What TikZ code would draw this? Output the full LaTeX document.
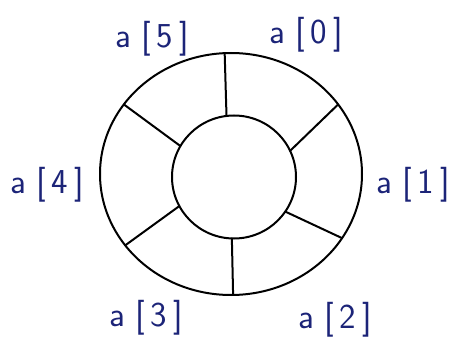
\documentclass[tikz,border=0pt]{standalone}
\usetikzlibrary{shapes.geometric}
\definecolor{ink}{RGB}{28,36,120}
\begin{document}
\begin{tikzpicture}[x=1pt,y=1pt,
  ring/.style={draw=black, line width=2pt, ellipse, inner sep=0pt, outer sep=0pt},
  spoke/.style={draw=black, line width=2pt, line cap=round},
  lbl/.style={text=ink, font=\sffamily\fontsize{35}{40}\selectfont, inner sep=0pt}]
\useasboundingbox (0,0) rectangle (475,349);
\node[ring, minimum width=262pt, minimum height=242pt] (outer) at (231,175) {};
\node[ring, minimum width=124pt, minimum height=123pt] (inner) at (234,172) {};
\draw[spoke] (inner.97) -- (outer.93);
\draw[spoke] (inner.25) -- (outer.33);
\draw[spoke] (inner.-34) -- (outer.-30);
\draw[spoke] (inner.-92) -- (outer.-89);
\draw[spoke] (inner.208) -- (outer.214);
\draw[spoke] (inner.150) -- (outer.147);
\newcommand{\arr}[1]{a\hspace{10pt}[\hspace{6pt}#1\hspace{6pt}]}
\node[lbl] (l5) at (152,310) {\arr{5}};
\node[lbl] (l0) at (306,314) {\arr{0}};
\node[lbl] (l1) at (413,164) {\arr{1}};
\node[lbl] (l4) at (47,164) {\arr{4}};
\node[lbl] (l3) at (146,31) {\arr{3}};
\node[lbl] (l2) at (335,29) {\arr{2}};
\end{tikzpicture}
\end{document}
